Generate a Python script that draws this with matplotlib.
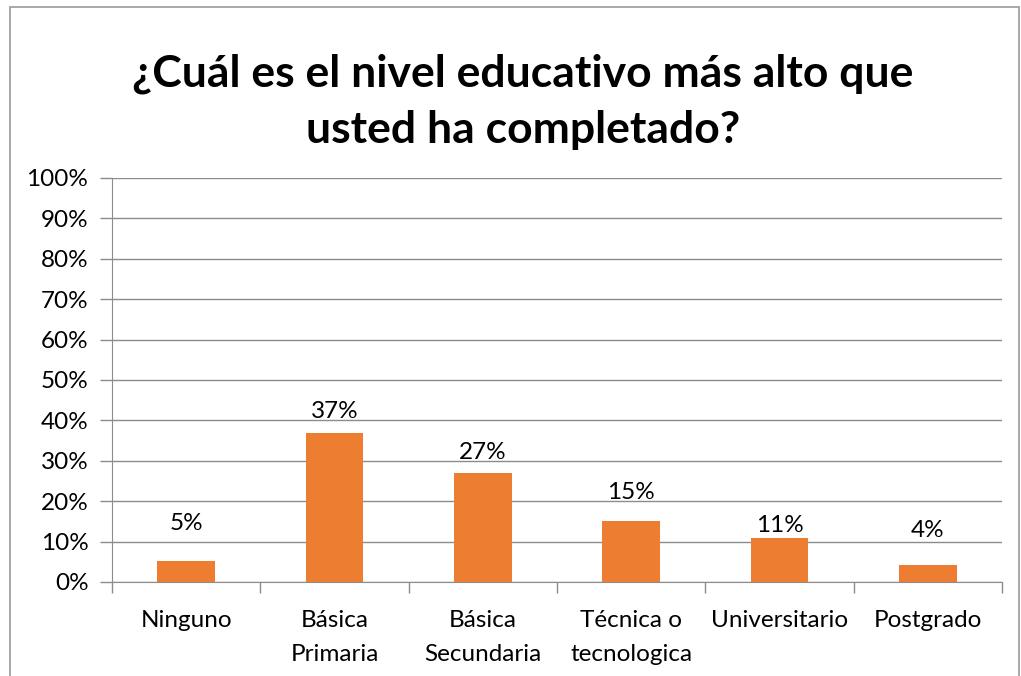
import matplotlib
matplotlib.use("Agg")
import matplotlib.pyplot as plt
from matplotlib.patches import Rectangle
from matplotlib.ticker import PercentFormatter

categories = ["Ninguno", "Básica\nPrimaria", "Básica\nSecundaria", "Técnica o\ntecnologica", "Universitario", "Postgrado"]
values = [5.3, 36.9, 26.9, 15.2, 10.8, 4.2]
labels = ["5%", "37%", "27%", "15%", "11%", "4%"]
label_pos = [14.4, 42.2, 32.0, 22.1, 14.1, 12.7]
title = "¿Cuál es el nivel educativo más alto que\nusted ha completado?"

plt.rcParams['font.family'] = ['Lato', 'DejaVu Sans']

W, H = 1021, 676
fig = plt.figure(figsize=(W / 100, H / 100), dpi=100)
ax = fig.add_axes([112 / W, 1 - 582 / H, (1002 - 112) / W, (582 - 178) / H])

x = list(range(len(categories)))
ax.bar(x, values, width=0.39, color="#ED7D31", zorder=3)
for xi, lab, yp in zip(x, labels, label_pos):
    ax.text(xi, yp, lab, ha="center", va="center", fontsize=17.5, color="#000000")

ax.set_xlim(-0.5, len(categories) - 0.5)
ax.set_ylim(0, 100)
ax.set_yticks(range(0, 101, 10))
ax.yaxis.set_major_formatter(PercentFormatter(decimals=0))
ax.grid(axis="y", color="#8c8c8c", linewidth=1.0, zorder=0)
ax.set_xticks(x)
ax.set_xticklabels(categories, fontsize=17.5, linespacing=1.75)
ax.set_xticks([i - 0.5 for i in range(len(categories) + 1)], minor=True)
ax.tick_params(axis="x", which="major", length=0, pad=20)
ax.tick_params(axis="x", which="minor", length=8, color="#8c8c8c", width=1.0)
ax.tick_params(axis="y", length=9, color="#8c8c8c", width=1.0, labelsize=17.5, pad=8)
for s in ["top", "right"]:
    ax.spines[s].set_visible(False)
ax.spines["left"].set_color("#8c8c8c")
ax.spines["bottom"].set_color("#8c8c8c")
ax.spines["bottom"].set_bounds(-0.5, len(categories) - 0.5)

fig.text(523 / W, 1 - 102 / H, title, ha="center", va="center", fontsize=32,
         fontweight="bold", linespacing=1.5)

fig.patches.append(Rectangle((10 / W, -0.05), (1019 - 10) / W, 1.05 - 7 / H,
                             transform=fig.transFigure, fill=False,
                             edgecolor="#9a9a9a", linewidth=1.2))

fig.savefig("out.png", dpi=100)
